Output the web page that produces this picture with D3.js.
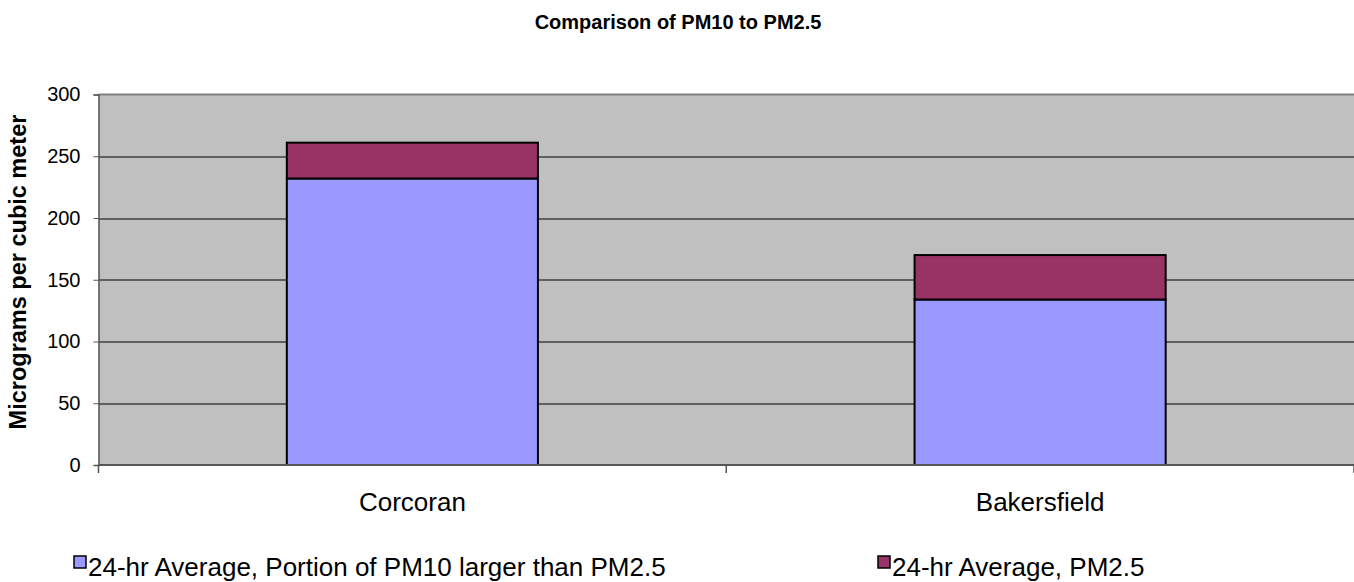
<!DOCTYPE html>
<html>
<head>
<meta charset="utf-8">
<script src="https://cdn.jsdelivr.net/npm/d3@7"></script>
<style>
  body { margin: 0; background: #fff; }
  svg { display: block; font-family: "Liberation Sans", Arial, sans-serif; }
</style>
</head>
<body>
<div id="vis"></div>
<script>
// chart data
var sites = ['Corcoran', 'Bakersfield'];
var coarsePortion = [232, 134];   // PM10 larger than PM2.5
var finePortion = [29, 36];       // PM2.5
var seriesNames = ['24-hr Average, Portion of PM10 larger than PM2.5', '24-hr Average, PM2.5'];
var seriesColors = ['#9999ff', '#993366'];
var yTicks = [0, 50, 100, 150, 200, 250, 300];

var width = 1354;
var height = 582;
var margin = { top: 94.5, right: 0, bottom: 117, left: 98.5 };
var plotW = width - margin.left - margin.right;
var plotH = height - margin.top - margin.bottom;

var svg = d3.select('#vis').append('svg')
  .attr('width', width)
  .attr('height', height);

// title
svg.append('text')
  .attr('x', 678)
  .attr('y', 29)
  .attr('text-anchor', 'middle')
  .style('font-weight', 'bold')
  .style('font-size', '20px')
  .text('Comparison of PM10 to PM2.5');

var g = svg.append('g')
  .attr('transform', 'translate(' + margin.left + ',' + margin.top + ')');

var x = d3.scaleBand().domain(sites).range([0, plotW]);
var y = d3.scaleLinear().domain([0, 300]).range([plotH, 0]);

// plot background
g.append('rect')
  .attr('width', plotW)
  .attr('height', plotH)
  .attr('fill', '#c0c0c0');

// gridlines
g.selectAll('.grid')
  .data(yTicks.filter(function (d) { return d > 0 && d < 300; }))
  .enter().append('line')
  .attr('x1', 0).attr('x2', plotW)
  .attr('y1', function (d) { return Math.round(y(d)) + 0.5; })
  .attr('y2', function (d) { return Math.round(y(d)) + 0.5; })
  .attr('stroke', '#000')
  .attr('stroke-width', 1);

// top border of plot
g.append('line')
  .attr('x1', 0).attr('x2', plotW)
  .attr('y1', 0).attr('y2', 0)
  .attr('stroke', '#808080')
  .attr('stroke-width', 2);

// stacked bars
var stackData = sites.map(function (s, i) {
  return { site: s, coarse: coarsePortion[i], fine: finePortion[i] };
});
var stack = d3.stack().keys(['coarse', 'fine']);
var layers = stack(stackData);

var barW = x.bandwidth() * 0.4;
layers.forEach(function (layer, li) {
  g.selectAll('.bar' + li)
    .data(layer)
    .enter().append('rect')
    .attr('x', function (d) { return x(d.data.site) + (x.bandwidth() - barW) / 2; })
    .attr('y', function (d) { return y(d[1]); })
    .attr('width', barW)
    .attr('height', function (d) { return y(d[0]) - y(d[1]); })
    .attr('fill', seriesColors[li])
    .attr('stroke', '#000')
    .attr('stroke-width', 2);
});

// y axis
var yAxis = g.append('g')
  .call(d3.axisLeft(y).tickValues(yTicks).tickSize(5).tickPadding(13));
yAxis.select('.domain').attr('stroke', '#555').attr('stroke-width', 1.5);
yAxis.selectAll('.tick line').attr('stroke', '#555');
yAxis.selectAll('text')
  .style('font-size', '20px')
  .attr('fill', '#000');

// x axis
var xAxisG = g.append('g').attr('transform', 'translate(0,' + plotH + ')');
xAxisG.append('line')
  .attr('x1', 0).attr('x2', plotW)
  .attr('stroke', '#555').attr('stroke-width', 2);
var xBoundaries = [0].concat(sites.map(function (s) { return x(s) + x.bandwidth(); }));
xAxisG.selectAll('.xtick')
  .data(xBoundaries)
  .enter().append('line')
  .attr('x1', function (d) { return d; })
  .attr('x2', function (d) { return d; })
  .attr('y1', 0).attr('y2', 8)
  .attr('stroke', '#555').attr('stroke-width', 1.5);
xAxisG.selectAll('.xlabel')
  .data(sites)
  .enter().append('text')
  .attr('x', function (d) { return x(d) + x.bandwidth() / 2; })
  .attr('y', 46)
  .attr('text-anchor', 'middle')
  .style('font-size', '26px')
  .text(function (d) { return d; });

// y axis title
svg.append('text')
  .attr('transform', 'translate(26,272) rotate(-90)')
  .attr('text-anchor', 'middle')
  .style('font-weight', 'bold')
  .style('font-size', '23.5px')
  .text('Micrograms per cubic meter');

// legend
var legendX = [74, 878];
var legend = svg.selectAll('.legend')
  .data(seriesNames)
  .enter().append('g')
  .attr('transform', function (d, i) { return 'translate(' + legendX[i] + ',556)'; });
legend.append('rect')
  .attr('width', 12).attr('height', 12)
  .attr('fill', function (d, i) { return seriesColors[i]; })
  .attr('stroke', '#000').attr('stroke-width', 1.5);
legend.append('text')
  .attr('x', 14)
  .attr('y', 20)
  .style('font-size', '26px')
  .text(function (d) { return d; });
</script>
</body>
</html>
